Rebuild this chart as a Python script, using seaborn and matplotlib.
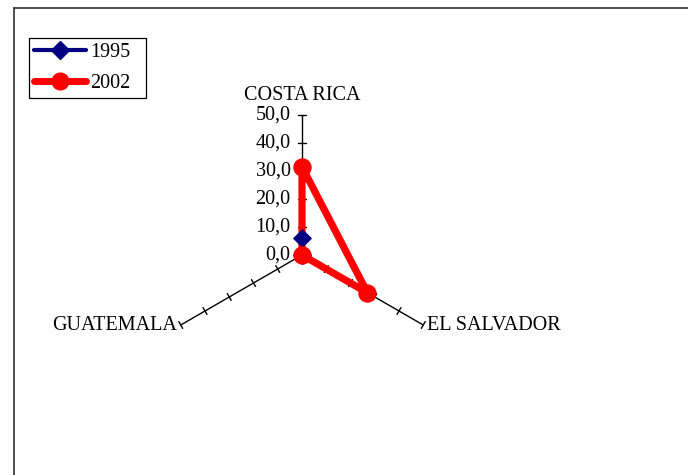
import numpy as np
import seaborn as sns
import matplotlib.pyplot as plt
from matplotlib.lines import Line2D

# data
countries = ["COSTA RICA", "EL SALVADOR", "GUATEMALA"]
years = ["1995", "2002"]
values_1995 = [6.0, 0.0, 0.0]
values_2002 = [31.5, 27.0, 0.0]
ticks = [0, 10, 20, 30, 40, 50]
tick_labels = ["0,0", "10,0", "20,0", "30,0", "40,0", "50,0"]

sns.set_style("white")
plt.rcParams['font.family'] = ['Liberation Serif', 'DejaVu Serif']
plt.rcParams['text.color'] = 'black'
FS = 14.5

W, H, DPI = 688, 475, 100
fig = plt.figure(figsize=(W / DPI, H / DPI), dpi=DPI)
ax = fig.add_axes([0, 0, 1, 1])
ax.axis("off")

# 1 value unit = 2.8 px, radar centre at pixel (302, 255)
px = 2.8
cx, cy = 302, 255
ax.set_xlim(-cx / px, (W - cx) / px)
ax.set_ylim(-(H - cy) / px, cy / px)

angles = np.deg2rad([90, -30, 210])
rmax = ticks[-1]


def to_xy(vals):
    v = np.asarray(vals + vals[:1], dtype=float)
    a = np.concatenate([angles, angles[:1]])
    return v * np.cos(a), v * np.sin(a)


# spokes with cross ticks
for a in angles:
    ax.plot([0, rmax * np.cos(a)], [0, rmax * np.sin(a)], color="black", lw=1.0, zorder=1)
    nx, ny = -np.sin(a), np.cos(a)
    for t in ticks[1:]:
        bx, by = t * np.cos(a), t * np.sin(a)
        ax.plot([bx - 1.4 * nx, bx + 1.4 * nx], [by - 1.4 * ny, by + 1.4 * ny],
                color="black", lw=1.0, zorder=1)

# value labels on top spoke
for t, lab in zip(ticks, tick_labels):
    ax.text(-4.1, t, lab, ha="right", va="center", fontsize=FS, zorder=1)

# category labels
ax.text(0, rmax + 7.0, countries[0], ha="center", va="center", fontsize=FS)
ax.text(rmax * np.cos(angles[1]) + 1.2, rmax * np.sin(angles[1]), countries[1],
        ha="left", va="center", fontsize=FS)
ax.text(rmax * np.cos(angles[2]) - 1.2, rmax * np.sin(angles[2]), countries[2],
        ha="right", va="center", fontsize=FS)

x95, y95 = to_xy(values_1995)
x02, y02 = to_xy(values_2002)
blue, red = "#000080", "#FF0000"

sns.lineplot(x=x95, y=y95, sort=False, estimator=None, color=blue, lw=3, ax=ax, zorder=2)
sns.lineplot(x=x02, y=y02, sort=False, estimator=None, color=red, lw=5.2, ax=ax, zorder=3)
ax.scatter(x95[:-1], y95[:-1], marker="D", s=95, color=blue, zorder=4, linewidths=0)
ax.scatter(x02[:-1], y02[:-1], marker="o", s=175, color=red, zorder=5, linewidths=0)

handles = [
    Line2D([0], [0], color=blue, lw=3, marker="D", markersize=9, label=years[0]),
    Line2D([0], [0], color=red, lw=5, marker="o", markersize=12, label=years[1]),
]
leg = ax.legend(handles=handles, loc="upper left",
                bbox_to_anchor=(29 / W, 1 - 100 / H, 117 / W, 62 / H),
                bbox_transform=fig.transFigure, borderaxespad=0, fontsize=FS,
                mode="expand", frameon=True, fancybox=False, edgecolor="black",
                framealpha=1, handlelength=2.6, handletextpad=0.2,
                labelspacing=0.6, borderpad=0.25)
leg.get_frame().set_linewidth(0.9)

# chart-area border (left and top only visible)
fig.add_artist(Line2D([14 / W, 14 / W], [0, 1 - 8 / H], transform=fig.transFigure,
                      color="#404040", lw=1.3))
fig.add_artist(Line2D([14 / W, 1], [1 - 8 / H, 1 - 8 / H], transform=fig.transFigure,
                      color="#404040", lw=1.3))

fig.savefig("out.png", dpi=DPI)
